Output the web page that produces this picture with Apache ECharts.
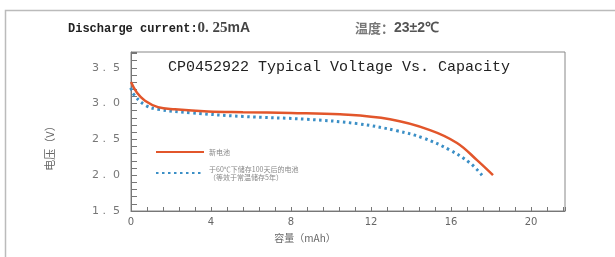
<!DOCTYPE html>
<html>
<head>
<meta charset="utf-8">
<script src="https://cdn.jsdelivr.net/npm/echarts@6/dist/echarts.min.js"></script>
<style>
  html, body { margin: 0; padding: 0; background: #fff; overflow: hidden; }
  #chart { width: 615px; height: 257px; }
</style>
</head>
<body>
<div id="chart"></div>
<script>
// fresh cell
const newCapacity = [0, 0.3, 0.7, 1.35, 2.2, 3.85, 5.6, 8, 10.45, 12.95, 14.95, 16.3, 17.3, 18.1]
const newVoltage = [3.3, 3.15, 3.04, 2.95, 2.92, 2.89, 2.88, 2.87, 2.85, 2.78, 2.63, 2.45, 2.21, 2.0]
// stored 100 days at 60℃
const agedCapacity = [0, 0.1, 0.7, 1.35, 3.05, 5.6, 8.8, 11.3, 13.3, 14.6, 15.95, 16.95, 17.55]
const agedVoltage = [3.22, 3.14, 2.98, 2.92, 2.87, 2.82, 2.78, 2.72, 2.62, 2.52, 2.35, 2.17, 2.0]

const seriesNames = ['新电池', '于60℃下储存100天后的电池\n（等效于常温储存5年）']

const mono = 'Liberation Mono, DejaVu Sans Mono, monospace'
const axisGray = '#777'
const labelGray = '#666'

const chart = echarts.init(document.getElementById('chart'), null, { renderer: 'canvas' })

const zip = (xs, ys) => xs.map((x, i) => [x, ys[i]])

chart.setOption({
  animation: false,
  backgroundColor: '#fff',
  title: [
    {
      left: 63, top: 16,
      text: '{a|Discharge current:}{b|0. 25}{c|mA}',
      textStyle: {
        rich: {
          a: { fontFamily: mono, fontSize: 12, fontWeight: 'bold', color: '#222' },
          b: { fontFamily: 'Liberation Serif, serif', fontSize: 15, color: '#444' },
          c: { fontFamily: 'Liberation Sans, sans-serif', fontSize: 14, fontWeight: 'bold', color: '#444' }
        }
      }
    },
    {
      left: 350, top: 16,
      text: '{a|温度：}{b|23±2℃}',
      textStyle: {
        rich: {
          a: { fontFamily: 'Noto Sans CJK SC', fontSize: 13, color: '#777' },
          b: { fontFamily: 'Liberation Sans, sans-serif', fontSize: 14, fontWeight: 'bold', color: '#555' }
        }
      }
    },
    {
      left: 163, top: 55,
      text: 'CP0452922 Typical Voltage Vs. Capacity',
      textStyle: { fontFamily: mono, fontSize: 15, fontWeight: 'normal', color: '#222' }
    }
  ],
  graphic: [
    {
      type: 'polyline',
      shape: { points: [[5.5, 257], [5.5, 10.5], [615, 10.5]] },
      style: { fill: 'none', stroke: '#bbb', lineWidth: 1.5 },
      silent: true,
      z: -1
    }
  ],
  legend: {
    orient: 'vertical',
    left: 150, top: 143,
    itemWidth: 48, itemHeight: 10,
    itemGap: 9,
    data: seriesNames,
    itemStyle: { opacity: 0 },
    textStyle: { fontFamily: 'Noto Sans CJK SC', fontSize: 7, color: '#888', lineHeight: 8 }
  },
  grid: { left: 131, top: 52, right: 50, bottom: 46, show: true, borderColor: '#888', borderWidth: 1 },
  xAxis: {
    type: 'value',
    min: 0, max: 21.7, interval: 4,
    name: '容量（mAh）',
    nameLocation: 'middle',
    nameGap: 22,
    nameTextStyle: { fontFamily: 'Noto Sans CJK SC', fontSize: 10, color: labelGray, padding: [0, 86, 0, 0] },
    axisLine: { lineStyle: { color: axisGray } },
    axisTick: { inside: true, length: 4, lineStyle: { color: axisGray } },
    minorTick: { show: true, splitNumber: 5, length: 4, lineStyle: { color: axisGray } },
    axisLabel: { showMaxLabel: false, color: labelGray, fontSize: 10, margin: 6, fontFamily: 'DejaVu Sans' },
    splitLine: { show: false }
  },
  yAxis: {
    type: 'value',
    min: 1.5, max: 3.72, interval: 0.5,
    name: '电压（V）',
    nameLocation: 'middle',
    nameGap: 76,
    nameRotate: 90,
    nameTextStyle: { fontFamily: 'Noto Sans CJK SC', fontSize: 11, color: labelGray, padding: [0, 0, 0, -28] },
    axisLine: { lineStyle: { color: axisGray } },
    axisTick: { inside: true, length: 6, lineStyle: { color: axisGray } },
    minorTick: { show: true, splitNumber: 5, length: 6, lineStyle: { color: axisGray } },
    axisLabel: {
      showMaxLabel: false,
      color: '#777', fontSize: 11, margin: 11, fontFamily: 'DejaVu Sans',
      formatter: v => v.toFixed(1).replace('.', ' .  ')
    },
    splitLine: { show: false }
  },
  series: [
    {
      name: seriesNames[0],
      type: 'line',
      data: zip(newCapacity, newVoltage),
      smooth: 0.4,
      showSymbol: false,
      symbol: 'none',
      lineStyle: { color: '#e2562b', width: 2.5 },
      itemStyle: { color: '#e2562b' },
      z: 3
    },
    {
      name: seriesNames[1],
      type: 'line',
      data: zip(agedCapacity, agedVoltage),
      smooth: 0.4,
      showSymbol: false,
      symbol: 'none',
      lineStyle: { color: '#3b8fc6', width: 3, type: [2.5, 3.5] },
      itemStyle: { color: '#3b8fc6' },
      z: 2
    }
  ]
})
</script>
</body>
</html>
